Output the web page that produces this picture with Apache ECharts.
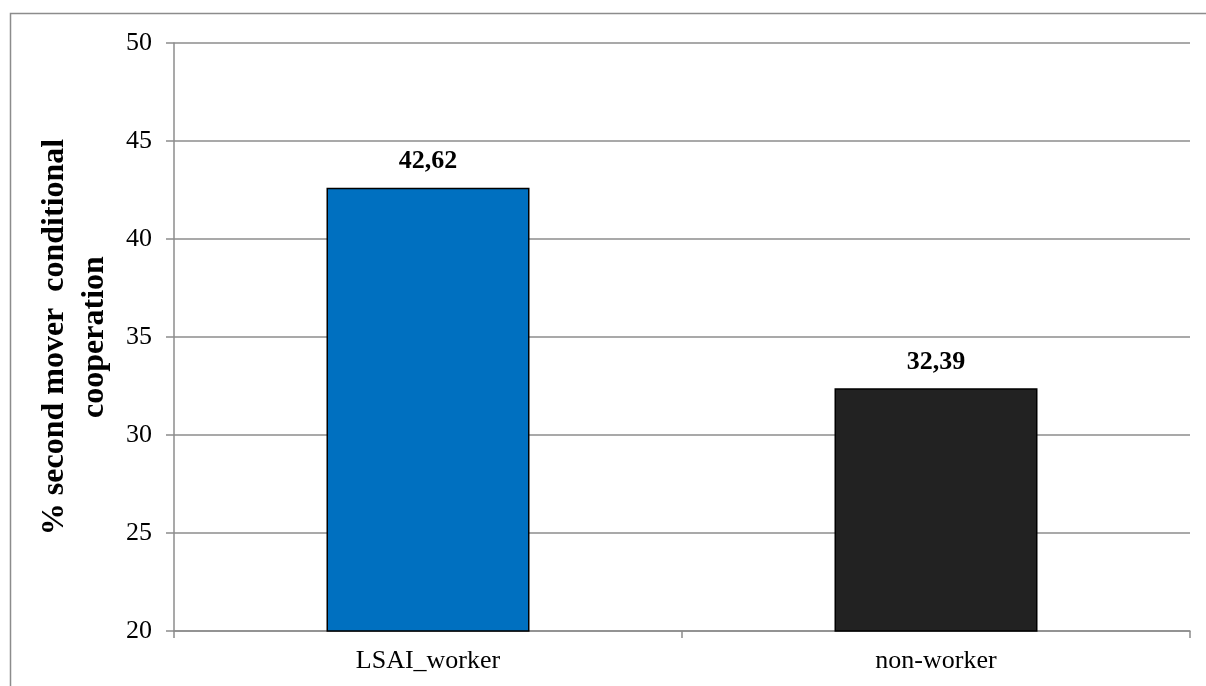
<!DOCTYPE html>
<html>
<head>
<meta charset="utf-8">
<script src="https://cdn.jsdelivr.net/npm/echarts@6/dist/echarts.min.js"></script>
<style>
  html, body { margin: 0; padding: 0; background: #fff; }
  #main { width: 1206px; height: 686px; }
</style>
</head>
<body>
<div id="main"></div>
<script>
var categories = ['LSAI_worker', 'non-worker'];
var values = [42.62, 32.39];
var barColors = ['#0070C0', '#222222'];

var myChart = echarts.init(document.getElementById('main'));
var font = '"Liberation Serif", "Times New Roman", serif';

myChart.setOption({
  animation: false,
  textStyle: { fontFamily: font },
  graphic: [{
    type: 'rect',
    shape: { x: 10.5, y: 13.5, width: 1400, height: 900 },
    style: { fill: 'none', stroke: '#8c8c8c', lineWidth: 1.5 },
    z: -1
  }],
  grid: { left: 174, top: 43, right: 16, bottom: 55 },
  xAxis: {
    type: 'category',
    data: categories,
    axisLine: { lineStyle: { color: '#8c8c8c', width: 1.5 } },
    axisTick: { show: true, length: 7, lineStyle: { color: '#8c8c8c', width: 1.5 } },
    axisLabel: { color: '#000', fontSize: 26, fontFamily: font, margin: 17 }
  },
  yAxis: {
    type: 'value',
    min: 20,
    max: 50,
    interval: 5,
    name: '% second mover  conditional\ncooperation',
    nameLocation: 'middle',
    nameGap: 47,
    nameTextStyle: { color: '#000', fontSize: 32, fontWeight: 'bold', fontFamily: font, lineHeight: 40 },
    axisLine: { show: true, lineStyle: { color: '#8c8c8c', width: 1.5 } },
    axisTick: { show: true, length: 8, lineStyle: { color: '#8c8c8c', width: 1.5 } },
    axisLabel: { color: '#000', fontSize: 26, fontFamily: font, margin: 22 },
    splitLine: { lineStyle: { color: '#8c8c8c', width: 1.5 } }
  },
  series: [{
    type: 'bar',
    barWidth: 203,
    data: values.map(function (v, i) {
      return { value: v, itemStyle: { color: barColors[i] } };
    }),
    itemStyle: { borderColor: '#000', borderWidth: 1.5 },
    label: {
      show: true,
      position: 'top',
      distance: 13,
      color: '#000',
      fontSize: 26,
      fontWeight: 'bold',
      fontFamily: font,
      formatter: function (p) { return p.value.toFixed(2).replace('.', ','); }
    }
  }]
});
</script>
</body>
</html>
